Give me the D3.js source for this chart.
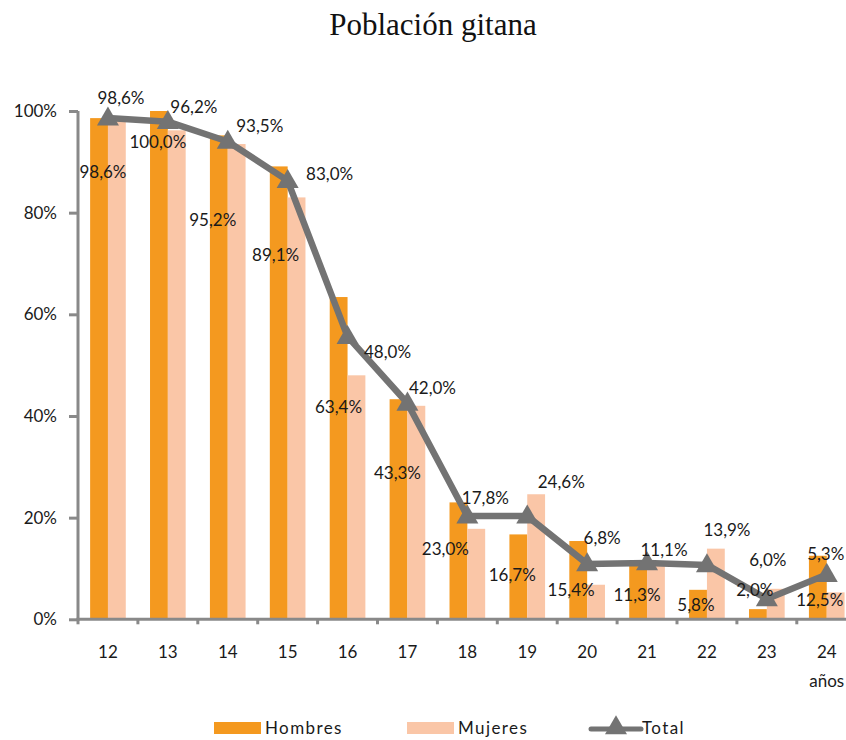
<!DOCTYPE html>
<html><head><meta charset="utf-8">
<script src="https://cdn.jsdelivr.net/npm/d3@7"></script>
<style>
html,body{margin:0;padding:0;background:#fff;}
svg{display:block;}
</style></head>
<body>
<svg id="chart" width="846" height="740"></svg>
<script>
// ---- data ----
const categories = ["12","13","14","15","16","17","18","19","20","21","22","23","24"];
const hombres = [98.6,100.0,95.2,89.1,63.4,43.3,23.0,16.7,15.4,11.3,5.8,2.0,12.5];
const mujeres = [98.6,96.2,93.5,83.0,48.0,42.0,17.8,24.6,6.8,11.1,13.9,6.0,5.3];
const total   = [98.6,97.9,94.0,86.3,55.6,42.5,20.3,20.3,10.9,11.1,10.7,4.0,8.8];
const yTicks = [0,20,40,60,80,100];
const seriesNames = ["Hombres","Mujeres","Total"];
const title = "Población gitana";
const unitLabel = "años";

// ---- label layout (offsets from each value's anchor) ----
const hLabelNudge = [[-5,54],[-10,31],[-15,85],[-12,89],[-9,110],[-10,74],[-22,47],[-15,41],[-16,49],[-10,33],[-11,15],[-12,-19],[-7,44]];
const mLabelNudge = [[13,-20],[26,-23],[32,-18],[42,-23],[40,-23],[25,-18],[18,-31],[34,-12],[15,-47],[17,-13],[20,-19],[1,-29],[-1,-38]];

const colH = "#F4991F", colM = "#FAC6A7", colT = "#737373", axisCol = "#898989", txt = "#1a1a1a";
const font = "Lato, 'Open Sans', sans-serif";
const fmt = v => v.toFixed(1).replace(".", ",") + "%";

(function(){
const svg = d3.select("#chart");
const left = 78, step = 59.9, plotTop = 111, plotBottom = 619.3;

const x = d3.scaleBand().domain(categories).range([left, left + step*categories.length]);
const x1 = d3.scaleBand().domain(["H","M"]).range([0, x.bandwidth()]).paddingInner(0).paddingOuter(0.68);
const y = d3.scaleLinear().domain([0,100]).range([plotBottom, plotTop]);

// title
svg.append("text").attr("x", 433).attr("y", 35).attr("text-anchor","middle")
  .attr("font-family","'Liberation Serif', 'DejaVu Serif', serif").attr("font-size", 31)
  .attr("fill","#111").text(title);

// bars
const g = svg.append("g");
g.selectAll("rect.h").data(hombres).join("rect").attr("class","h")
  .attr("x",(d,i)=>x(categories[i])+x1("H")).attr("width",x1.bandwidth())
  .attr("y",d=>y(d)).attr("height",d=>y(0)-y(d)).attr("fill",colH);
g.selectAll("rect.m").data(mujeres).join("rect").attr("class","m")
  .attr("x",(d,i)=>x(categories[i])+x1("M")).attr("width",x1.bandwidth())
  .attr("y",d=>y(d)).attr("height",d=>y(0)-y(d)).attr("fill",colM);

// axes
const yAxis = d3.axisLeft(y).tickValues(yTicks).tickSize(9).tickFormat(d=>d+"%");
const ya = svg.append("g").attr("transform",`translate(${left},0)`).call(yAxis);
ya.select(".domain").attr("stroke",axisCol).attr("stroke-width",3).attr("d",`M0,${plotBottom+1.5}V${plotTop}`);
ya.selectAll(".tick line").attr("stroke",axisCol).attr("stroke-width",3);
ya.selectAll(".tick text").attr("font-family",font).attr("font-size",17).attr("fill",txt).attr("x",-21);

const xa = svg.append("g").attr("transform",`translate(0,${plotBottom})`);
xa.append("line").attr("x1",left-1.5).attr("x2",846).attr("y1",0).attr("y2",0)
  .attr("stroke",axisCol).attr("stroke-width",3);
xa.selectAll("line.tk").data(categories.concat(["end"])).join("line").attr("class","tk")
  .attr("x1",(d,i)=>left+i*x.step()).attr("x2",(d,i)=>left+i*x.step())
  .attr("y1",0).attr("y2",5).attr("stroke",axisCol).attr("stroke-width",3);
xa.selectAll("text.cat").data(categories).join("text").attr("class","cat")
  .attr("x",d=>x(d)+x.bandwidth()/2).attr("y",39).attr("text-anchor","middle")
  .attr("font-family",font).attr("font-size",17).attr("fill",txt).text(d=>d);
xa.append("text").attr("x",x("24")+x.bandwidth()/2).attr("y",68).attr("text-anchor","middle")
  .attr("font-family",font).attr("font-size",17).attr("fill",txt).text(unitLabel);

// total line
const cx = i => x(categories[i]) + x.bandwidth()/2;
const line = d3.line().x((d,i)=>cx(i)).y(d=>y(d));
svg.append("path").datum(total).attr("d",line).attr("fill","none")
  .attr("stroke",colT).attr("stroke-width",6.5).attr("stroke-linejoin","round");
const tri = d3.symbol().type(d3.symbolTriangle).size(210);
svg.selectAll("path.tri").data(total).join("path").attr("class","tri")
  .attr("d",tri).attr("transform",(d,i)=>`translate(${cx(i)},${y(d)+1})`).attr("fill",colT);

// data labels
svg.selectAll("text.hl").data(hombres).join("text").attr("class","hl")
  .attr("x",(d,i)=>cx(i)+hLabelNudge[i][0]).attr("y",(d,i)=>y(d)+hLabelNudge[i][1]+6)
  .attr("text-anchor","middle").attr("font-family",font).attr("font-size",17).attr("fill",txt).text(fmt);
svg.selectAll("text.ml").data(mujeres).join("text").attr("class","ml")
  .attr("x",(d,i)=>cx(i)+mLabelNudge[i][0]).attr("y",(d,i)=>y(d)+mLabelNudge[i][1]+6)
  .attr("text-anchor","middle").attr("font-family",font).attr("font-size",17).attr("fill",txt).text(fmt);

// legend
const lg = svg.append("g").attr("font-family",font).attr("font-size",17).attr("fill",txt).attr("letter-spacing",1.4);
lg.append("rect").attr("x",214).attr("y",722).attr("width",47).attr("height",12).attr("fill",colH);
lg.append("text").attr("x",265).attr("y",734).text(seriesNames[0]);
lg.append("rect").attr("x",407).attr("y",722).attr("width",47).attr("height",12).attr("fill",colM);
lg.append("text").attr("x",458).attr("y",734).text(seriesNames[1]);
lg.append("line").attr("x1",591).attr("x2",641).attr("y1",729).attr("y2",729).attr("stroke",colT).attr("stroke-width",5).attr("stroke-linecap","round");
lg.append("path").attr("d",tri).attr("transform","translate(616,728)").attr("fill",colT);
lg.append("text").attr("x",642).attr("y",734).text(seriesNames[2]);
})();
</script>
</body></html>
